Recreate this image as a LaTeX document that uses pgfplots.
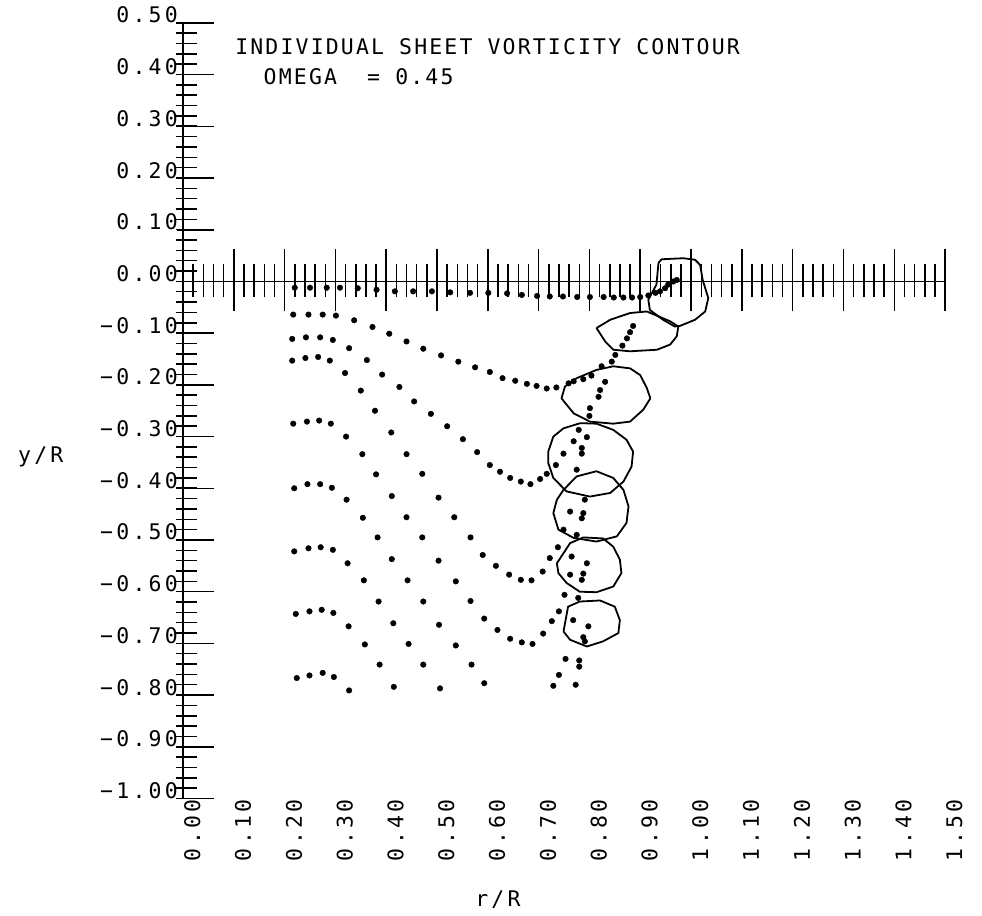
\documentclass[border=0pt]{standalone}
\usepackage{fontspec}
\newfontfamily\plotfont[LetterSpace=15]{DejaVu Sans Mono}
\newfontfamily\titlefont[LetterSpace=10]{DejaVu Sans Mono}
\usepackage{pgfplots}
\pgfplotsset{compat=1.18}

\newcommand\pf{\plotfont\fontsize{21.5}{21.5}\selectfont}
\newcommand\tf{\titlefont\fontsize{21.5}{21.5}\selectfont}

\begin{document}
\begin{tikzpicture}
\begin{axis}[
  at={(0,0)}, anchor=south west,
  x=508pt, y=517pt,
  xmin=0, xmax=1.5, ymin=-1, ymax=0.5,
  axis x line=bottom, axis y line=left,
  x axis line style={draw=none},
  y axis line style={-, line width=1.6pt},
  tick style={draw=none},
  major tick length=0pt, minor tick length=0pt,
  xtick={0,0.1,0.2,0.3,0.4,0.5,0.6,0.7,0.8,0.9,1.0,1.1,1.2,1.3,1.4,1.5},
  xticklabels={0.00,0.10,0.20,0.30,0.40,0.50,0.60,0.70,0.80,0.90,1.00,1.10,1.20,1.30,1.40,1.50},
  ytick={-1,-0.9,-0.8,-0.7,-0.6,-0.5,-0.4,-0.3,-0.2,-0.1,0,0.1,0.2,0.3,0.4,0.5},
  yticklabels={−1.00,−0.90,−0.80,−0.70,−0.60,−0.50,−0.40,−0.30,−0.20,−0.10,0.00,0.10,0.20,0.30,0.40,0.50},
  xticklabel style={rotate=90, anchor=north east, font=\pf, inner sep=1pt},
  yticklabel style={anchor=base east, font=\pf, inner sep=1pt, xshift=-4pt},
  clip=false,
]
% horizontal reference line y/R = 0 with its tick marks
\draw[line width=1.6pt] (axis cs:0,0) -- (axis cs:1.5,0);
\pgfplotsinvokeforeach{0,0.02,...,1.51}{
  \draw[line width=1.5pt] (axis cs:#1,-0.03) -- (axis cs:#1,0.034);
}
\pgfplotsinvokeforeach{0,0.1,...,1.51}{
  \draw[line width=1.5pt] (axis cs:#1,-0.058) -- (axis cs:#1,0.062);
}
% ticks on the y/R axis
\pgfplotsinvokeforeach{-1,-0.98,...,0.51}{
  \draw[line width=1.5pt] (axis cs:-0.014,#1) -- (axis cs:0.027,#1);
}
\pgfplotsinvokeforeach{-1,-0.9,...,0.51}{
  \draw[line width=1.5pt] (axis cs:-0.012,#1) -- (axis cs:0.062,#1);
}

% vortex sheet points
\pgfplotsset{sheet/.style={only marks, mark=*, mark size=2.8pt, mark options={draw=black, fill=black}}}
\addplot[sheet] coordinates {(0.220,-0.012)(0.250,-0.012)(0.283,-0.012)(0.309,-0.012)(0.344,-0.013)(0.381,-0.016)(0.417,-0.019)(0.453,-0.019)(0.490,-0.019)(0.526,-0.021)(0.565,-0.022)(0.601,-0.022)(0.638,-0.023)(0.667,-0.026)(0.697,-0.028)(0.722,-0.029)(0.748,-0.029)(0.776,-0.030)(0.801,-0.030)(0.828,-0.030)(0.848,-0.031)(0.867,-0.031)(0.884,-0.031)(0.900,-0.030)(0.916,-0.027)(0.930,-0.022)(0.939,-0.019)(0.949,-0.013)(0.955,-0.006)(0.965,0.000)(0.972,0.003)};
\addplot[sheet] coordinates {(0.217,-0.064)(0.247,-0.064)(0.275,-0.064)(0.301,-0.066)(0.337,-0.075)(0.373,-0.088)(0.406,-0.101)(0.440,-0.116)(0.473,-0.130)(0.508,-0.143)(0.542,-0.155)(0.575,-0.166)(0.604,-0.175)(0.629,-0.187)(0.654,-0.192)(0.677,-0.198)(0.696,-0.202)(0.716,-0.207)(0.735,-0.205)(0.759,-0.197)(0.769,-0.193)(0.788,-0.189)(0.804,-0.182)(0.824,-0.164)};
\addplot[sheet] coordinates {(0.215,-0.111)(0.242,-0.108)(0.270,-0.108)(0.295,-0.113)(0.327,-0.129)(0.362,-0.152)(0.392,-0.180)(0.426,-0.204)(0.455,-0.232)(0.488,-0.256)(0.520,-0.280)(0.551,-0.305)(0.579,-0.330)(0.604,-0.355)(0.624,-0.368)(0.644,-0.380)(0.665,-0.387)(0.684,-0.392)(0.703,-0.382)(0.716,-0.372)};
\addplot[sheet] coordinates {(0.215,-0.153)(0.241,-0.148)(0.266,-0.146)(0.289,-0.153)(0.319,-0.177)(0.350,-0.211)(0.378,-0.250)(0.410,-0.292)(0.440,-0.334)(0.471,-0.372)(0.503,-0.418)(0.534,-0.456)(0.566,-0.495)(0.590,-0.529)(0.616,-0.550)(0.642,-0.567)(0.665,-0.577)(0.686,-0.578)(0.708,-0.561)(0.722,-0.535)(0.738,-0.514)};
\addplot[sheet] coordinates {(0.217,-0.275)(0.244,-0.271)(0.268,-0.269)(0.291,-0.275)(0.321,-0.300)(0.353,-0.334)(0.380,-0.373)(0.411,-0.415)(0.440,-0.456)(0.471,-0.495)(0.503,-0.540)(0.537,-0.580)(0.566,-0.618)(0.593,-0.652)(0.619,-0.674)(0.644,-0.691)(0.667,-0.698)(0.688,-0.701)(0.709,-0.681)(0.726,-0.657)(0.740,-0.638)};
\addplot[sheet] coordinates {(0.219,-0.400)(0.245,-0.392)(0.270,-0.392)(0.293,-0.399)(0.322,-0.422)(0.354,-0.457)(0.383,-0.495)(0.411,-0.537)(0.442,-0.578)(0.473,-0.619)(0.504,-0.664)(0.537,-0.704)(0.568,-0.741)(0.593,-0.777)};
\addplot[sheet] coordinates {(0.219,-0.522)(0.247,-0.516)(0.271,-0.514)(0.295,-0.519)(0.324,-0.545)(0.356,-0.578)(0.385,-0.619)(0.414,-0.661)(0.444,-0.701)(0.473,-0.741)(0.506,-0.787)};
\addplot[sheet] coordinates {(0.222,-0.643)(0.249,-0.638)(0.273,-0.635)(0.296,-0.641)(0.326,-0.667)(0.358,-0.702)(0.387,-0.741)(0.415,-0.784)};
\addplot[sheet] coordinates {(0.224,-0.767)(0.249,-0.762)(0.275,-0.757)(0.297,-0.765)(0.327,-0.791)};
% rolled-up tip vortex points
\addplot[sheet] coordinates {(0.844,-0.155)(0.851,-0.142)(0.865,-0.124)(0.874,-0.110)(0.880,-0.098)(0.886,-0.086)
(0.831,-0.194)(0.821,-0.210)(0.818,-0.223)(0.801,-0.245)(0.800,-0.260)
(0.779,-0.287)(0.795,-0.301)(0.769,-0.309)(0.785,-0.322)(0.785,-0.333)(0.749,-0.333)(0.734,-0.355)(0.775,-0.364)
(0.791,-0.422)(0.762,-0.445)(0.788,-0.448)(0.785,-0.458)(0.749,-0.480)(0.775,-0.490)
(0.765,-0.532)(0.795,-0.545)(0.762,-0.567)(0.788,-0.565)(0.785,-0.577)
(0.751,-0.606)(0.778,-0.612)
(0.768,-0.655)(0.798,-0.667)(0.788,-0.688)(0.791,-0.696)
(0.753,-0.730)(0.780,-0.733)(0.780,-0.745)(0.740,-0.761)(0.729,-0.782)(0.773,-0.780)};

% vorticity contours
\pgfplotsset{contour/.style={black, line width=1.8pt, mark=none, line join=round}}
\addplot[contour] coordinates {(0.936,0.036)(0.942,0.043)(0.985,0.045)(1.008,0.042)(1.018,0.032)(1.023,0.003)(1.034,-0.032)(1.028,-0.058)(1.008,-0.074)(0.978,-0.086)(0.968,-0.087)(0.945,-0.074)(0.919,-0.055)(0.916,-0.035)(0.932,-0.006)(0.936,0.036)};
\addplot[contour] coordinates {(0.814,-0.090)(0.841,-0.074)(0.880,-0.061)(0.913,-0.058)(0.959,-0.077)(0.975,-0.087)(0.972,-0.106)(0.959,-0.122)(0.933,-0.132)(0.880,-0.135)(0.847,-0.132)(0.831,-0.116)(0.814,-0.090)};
\addplot[contour] coordinates {(0.745,-0.226)(0.752,-0.203)(0.775,-0.187)(0.814,-0.171)(0.847,-0.164)(0.880,-0.168)(0.900,-0.181)(0.913,-0.206)(0.920,-0.226)(0.906,-0.248)(0.880,-0.271)(0.847,-0.275)(0.801,-0.271)(0.769,-0.255)(0.745,-0.226)};
\addplot[contour] coordinates {(0.719,-0.329)(0.729,-0.300)(0.749,-0.284)(0.782,-0.274)(0.814,-0.275)(0.847,-0.287)(0.873,-0.306)(0.886,-0.329)(0.883,-0.358)(0.867,-0.387)(0.841,-0.409)(0.801,-0.416)(0.755,-0.406)(0.729,-0.380)(0.719,-0.351)(0.719,-0.329)};
\addplot[contour] coordinates {(0.749,-0.403)(0.775,-0.377)(0.814,-0.367)(0.847,-0.380)(0.867,-0.403)(0.877,-0.435)(0.873,-0.467)(0.854,-0.493)(0.814,-0.503)(0.769,-0.496)(0.739,-0.480)(0.729,-0.448)(0.736,-0.422)(0.749,-0.403)};
\addplot[contour] coordinates {(0.736,-0.545)(0.762,-0.506)(0.788,-0.495)(0.827,-0.497)(0.847,-0.513)(0.860,-0.538)(0.863,-0.564)(0.847,-0.590)(0.814,-0.601)(0.781,-0.600)(0.755,-0.583)(0.739,-0.564)(0.736,-0.545)};
\addplot[contour] coordinates {(0.749,-0.677)(0.758,-0.629)(0.781,-0.619)(0.821,-0.617)(0.850,-0.629)(0.860,-0.655)(0.857,-0.680)(0.827,-0.696)(0.795,-0.706)(0.762,-0.693)(0.749,-0.677)};

% titles and axis names
\node[anchor=west, font=\tf] at (axis cs:0.096,0.454) {INDIVIDUAL SHEET VORTICITY CONTOUR};
\node[anchor=west, font=\tf] at (axis cs:0.152,0.396) {OMEGA\ \ = 0.45};
\node[font=\pf] at (axis cs:-0.28,-0.339) {y/R};
\node[font=\pf] at (axis cs:0.62,-1.196) {r/R};
\end{axis}
\pgfresetboundingbox
\path (-183pt,-117pt) rectangle (799pt,798.5pt);
\end{tikzpicture}
\end{document}
